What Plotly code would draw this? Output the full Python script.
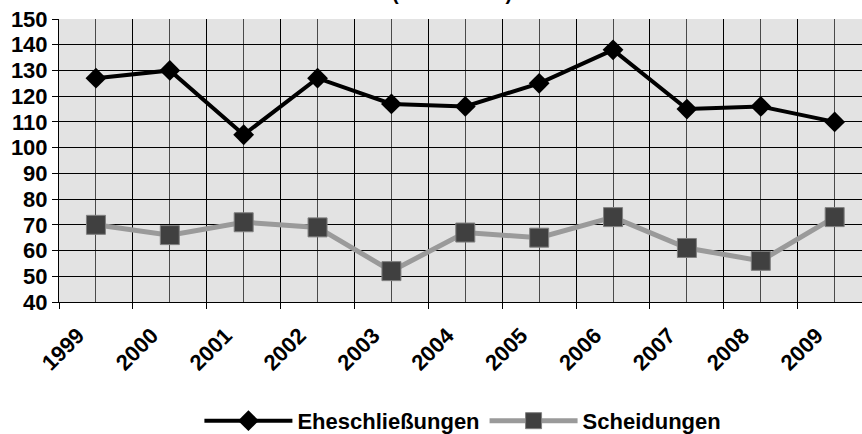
import plotly.graph_objects as go

years = [1999, 2000, 2001, 2002, 2003, 2004, 2005, 2006, 2007, 2008, 2009]
year_labels = [str(y) for y in years]
ehe = [127, 130, 105, 127, 117, 116, 125, 138, 115, 116, 110]
scheid = [70, 66, 71, 69, 52, 67, 65, 73, 61, 56, 73]
y_ticks = list(range(40, 151, 10))

FONT = "Liberation Sans, Arial, sans-serif"

fig = go.Figure()
fig.add_trace(go.Scatter(
    x=years, y=ehe, name="Eheschließungen", mode="lines+markers",
    line=dict(color="black", width=4),
    marker=dict(symbol="diamond", size=16, color="black"),
))
fig.add_trace(go.Scatter(
    x=years, y=scheid, name="Scheidungen", mode="lines+markers",
    line=dict(color="#9a9a9a", width=5),
    marker=dict(symbol="square", size=19, color="#404040",
                line=dict(color="#808080", width=1)),
))

fig.add_annotation(
    text="<b>(1999 - 2009)</b>", xref="paper", yref="paper",
    x=0.49, y=1.045, xanchor="center", yanchor="bottom", showarrow=False,
    font=dict(family=FONT, size=20, color="black"),
)

fig.update_layout(
    width=862, height=434,
    margin=dict(l=59, r=0, t=19, b=132, autoexpand=False),
    paper_bgcolor="white", plot_bgcolor="#e3e3e3",
    font=dict(family=FONT, size=22, color="black", weight="bold"),
    showlegend=True,
    legend=dict(orientation="h", x=0.503, xanchor="center", y=-0.42,
                yanchor="middle", itemwidth=88,
                font=dict(family=FONT, size=22, color="black", weight="bold")),
    xaxis=dict(
        range=[1998.5, 2009.37], tickvals=years, ticktext=year_labels,
        tickangle=-45, ticks="", showgrid=True, gridcolor="#4a4a4a",
        gridwidth=1, showline=True, linecolor="black", linewidth=1,
        zeroline=False, automargin=False,
        ticklabelstandoff=11, ticklabelshift=-18,
        minor=dict(tickvals=[y + 0.5 for y in [1998] + years],
                   showgrid=True, gridcolor="black", gridwidth=1,
                   ticks="outside", ticklen=6, tickcolor="black"),
        tickfont=dict(family=FONT, size=22, color="black", weight="bold"),
    ),
    yaxis=dict(
        range=[40, 150], tickvals=y_ticks, ticks="outside", ticklen=6,
        tickcolor="black", showgrid=True, gridcolor="black", gridwidth=1,
        showline=True, linecolor="black", linewidth=1, zeroline=False,
        automargin=False,
        tickfont=dict(family=FONT, size=22, color="black", weight="bold"),
    ),
)

fig.write_html("out.html", config={"displayModeBar": False},
               post_script="document.body.style.margin='0';document.body.style.overflow='hidden';")
